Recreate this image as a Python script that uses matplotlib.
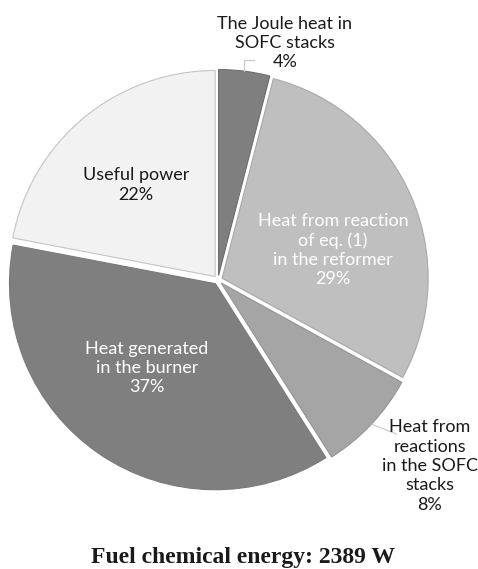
import numpy as np
import matplotlib
matplotlib.use("Agg")
import matplotlib.pyplot as plt

# Energy balance of the SOFC system (share of fuel chemical energy, %)
categories = [
    "The Joule heat in\nSOFC stacks",
    "Heat from reaction\nof eq. (1)\nin the reformer",
    "Heat from\nreactions\nin the SOFC\nstacks",
    "Heat generated\nin the burner",
    "Useful power",
]
shares = [4, 29, 8, 37, 22]
fuel_energy_w = 2389

face_colors = ["#7f7f7f", "#bfbfbf", "#a5a5a5", "#7f7f7f", "#f2f2f2"]
edge_colors = ["#6e6e6e", "#a8a8a8", "#949494", "#7a7a7a", "#c4c4c4"]
text_colors = ["#1a1a1a", "white", "#1a1a1a", "white", "#1a1a1a"]

W, H = 478, 569
fig = plt.figure(figsize=(W / 100, H / 100), dpi=100)
ax = fig.add_axes([0, 0, 1, 1])

cx, cy, r = 218, 289, 206
gap = 4.5  # wedge offset from the centre, in axes data units
wedges, _ = ax.pie(
    shares,
    startangle=90,
    counterclock=False,
    colors=face_colors,
    explode=[gap] * len(shares),
    radius=r,
    center=(cx, cy),
    wedgeprops=dict(linewidth=0.8),
)
for w, ec in zip(wedges, edge_colors):
    w.set_edgecolor(ec)

ax.set_xlim(0, W)
ax.set_ylim(0, H)
ax.set_aspect("equal")
ax.axis("off")

fs = 13

# label anchor positions (x, y from top)
label_pos = [(285, 43), (333, 250), (430, 466), (147, 368), (136, 185)]
for lab, val, (lx, ly), tc in zip(categories, shares, label_pos, text_colors):
    ax.text(lx, H - ly, f"{lab}\n{val}%", ha="center", va="center",
            fontsize=fs, color=tc, linespacing=1.25, family=["Lato", "DejaVu Sans"])

# leader lines from wedge outer arcs to outside labels
def arc_point(w):
    mid = np.deg2rad((w.theta1 + w.theta2) / 2)
    x0, y0 = w.center
    return x0 + w.r * np.cos(mid), y0 + w.r * np.sin(mid)

jx, jy = arc_point(wedges[0])
ax.plot([jx, jx, jx + 10], [jy, jy + 11, jy + 11], color="#c8c8c8", lw=0.8)
sx, sy = arc_point(wedges[2])
ax.plot([sx, sx + 25], [sy, sy - 10], color="#c8c8c8", lw=0.8)

ax.text(243, H - 563, f"Fuel chemical energy: {fuel_energy_w} W", ha="center",
        va="baseline", fontsize=17, fontweight="bold", color="#1a1a1a",
        family=["Liberation Serif", "DejaVu Serif"])

fig.savefig("out.png", dpi=100)
